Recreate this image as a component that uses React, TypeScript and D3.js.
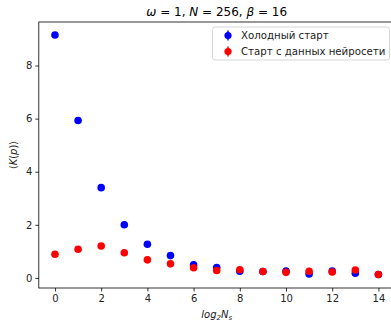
import * as d3 from "d3";
import { useEffect, useRef } from "react";

// log2 N_s
const xs = [0, 1, 2, 3, 4, 5, 6, 7, 8, 9, 10, 11, 12, 13, 14];
// cold start
const coldStart = [9.15, 5.93, 3.4, 2.0, 1.27, 0.84, 0.49, 0.39, 0.25, 0.24, 0.26, 0.15, 0.26, 0.18, 0.13];
// start from neural network data
const nnStart = [0.89, 1.08, 1.2, 0.95, 0.68, 0.53, 0.38, 0.28, 0.31, 0.24, 0.21, 0.25, 0.22, 0.3, 0.13];
const xTicks = [0, 2, 4, 6, 8, 10, 12, 14];
const yTicks = [0, 2, 4, 6, 8];
const legendLabels = ["Холодный старт", "Старт с данных нейросети"];
const colors = ["#0000ff", "#ff0000"];

const App = () => {
  const svgRef = useRef<SVGSVGElement>(null);

  useEffect(() => {
    const width = 391;
    const height = 322;
    const left = 38.8;
    const right = 394.6; // right spine falls just outside the crop
    const top = 22;
    const bottom = 288;

    const x = d3.scaleLinear().domain([-0.7, 14.7]).range([left, right]);
    const y = d3.scaleLinear().domain([-0.38, 9.64]).range([bottom, top]);

    const svg = d3.select(svgRef.current).attr("width", width).attr("height", height);
    svg.selectAll("*").remove();

    const font = "DejaVu Sans, sans-serif";

    // frame
    svg.append("rect")
      .attr("x", left).attr("y", top)
      .attr("width", right - left).attr("height", bottom - top)
      .attr("fill", "none").attr("stroke", "#000").attr("stroke-width", 0.8);

    // x axis
    const xAxis = svg.append("g")
      .attr("transform", `translate(0,${bottom})`)
      .call(d3.axisBottom(x).tickValues(xTicks).tickSize(3.5).tickPadding(3).tickFormat(d3.format("d")));
    xAxis.select(".domain").remove();
    xAxis.selectAll("line").attr("stroke", "#000").attr("stroke-width", 0.8);
    xAxis.selectAll("text").attr("font-family", font).attr("font-size", 10).attr("fill", "#222");

    // y axis
    const yAxis = svg.append("g")
      .attr("transform", `translate(${left},0)`)
      .call(d3.axisLeft(y).tickValues(yTicks).tickSize(3.5).tickPadding(3).tickFormat(d3.format("d")));
    yAxis.select(".domain").remove();
    yAxis.selectAll("line").attr("stroke", "#000").attr("stroke-width", 0.8);
    yAxis.selectAll("text").attr("font-family", font).attr("font-size", 10).attr("fill", "#222");

    // points (red drawn last, on top)
    const series = [coldStart, nnStart];
    series.forEach((vals, i) => {
      svg.append("g")
        .selectAll("circle")
        .data(xs)
        .join("circle")
        .attr("cx", (d) => x(d))
        .attr("cy", (_d, j) => y(vals[j]))
        .attr("r", 3.8)
        .attr("fill", colors[i]);
    });

    // title
    const title = svg.append("text")
      .attr("x", (left + right) / 2).attr("y", 16)
      .attr("text-anchor", "middle")
      .attr("font-family", font).attr("font-size", 12);
    title.append("tspan").attr("font-style", "italic").text("ω");
    title.append("tspan").text(" = 1, ");
    title.append("tspan").attr("font-style", "italic").text("N");
    title.append("tspan").text(" = 256, ");
    title.append("tspan").attr("font-style", "italic").text("β");
    title.append("tspan").text(" = 16");

    // x label
    const xl = svg.append("text")
      .attr("x", (left + right) / 2).attr("y", 318)
      .attr("text-anchor", "middle")
      .attr("font-family", font).attr("font-size", 10).attr("font-style", "italic").attr("fill", "#222");
    xl.append("tspan").text("log");
    xl.append("tspan").attr("font-size", 7).attr("dy", 2).text("2");
    xl.append("tspan").attr("dy", -2).text("N");
    xl.append("tspan").attr("font-size", 7).attr("dy", 2).text("s");

    // y label
    const yl = svg.append("text")
      .attr("transform", `translate(17,${(top + bottom) / 2}) rotate(-90)`)
      .attr("text-anchor", "middle")
      .attr("font-family", font).attr("font-size", 10).attr("fill", "#222");
    yl.append("tspan").text("⟨");
    yl.append("tspan").attr("font-style", "italic").text("K");
    yl.append("tspan").text("(");
    yl.append("tspan").attr("font-style", "italic").text("p");
    yl.append("tspan").text(")⟩");

    // legend
    const lg = svg.append("g");
    lg.append("rect")
      .attr("x", 212.5).attr("y", 27)
      .attr("width", 177).attr("height", 33)
      .attr("rx", 2.5)
      .attr("fill", "#fff").attr("fill-opacity", 0.8)
      .attr("stroke", "#ccc").attr("stroke-width", 0.8);
    legendLabels.forEach((label, i) => {
      const cy = 35.5 + i * 16;
      lg.append("line")
        .attr("x1", 228).attr("x2", 228)
        .attr("y1", cy - 5).attr("y2", cy + 5)
        .attr("stroke", colors[i]).attr("stroke-width", 1.5);
      lg.append("circle").attr("cx", 228).attr("cy", cy).attr("r", 3.6).attr("fill", colors[i]);
      lg.append("text")
        .attr("x", 241).attr("y", cy + 3.5)
        .attr("font-family", font).attr("font-size", 10.2).attr("fill", "#222")
        .text(label);
    });
  }, []);

  return (
    <div style={{ position: "absolute", left: 0, top: 0, width: 391, height: 322, overflow: "hidden", background: "#fff" }}>
      <svg ref={svgRef} style={{ display: "block" }}></svg>
    </div>
  );
};

export default App;
